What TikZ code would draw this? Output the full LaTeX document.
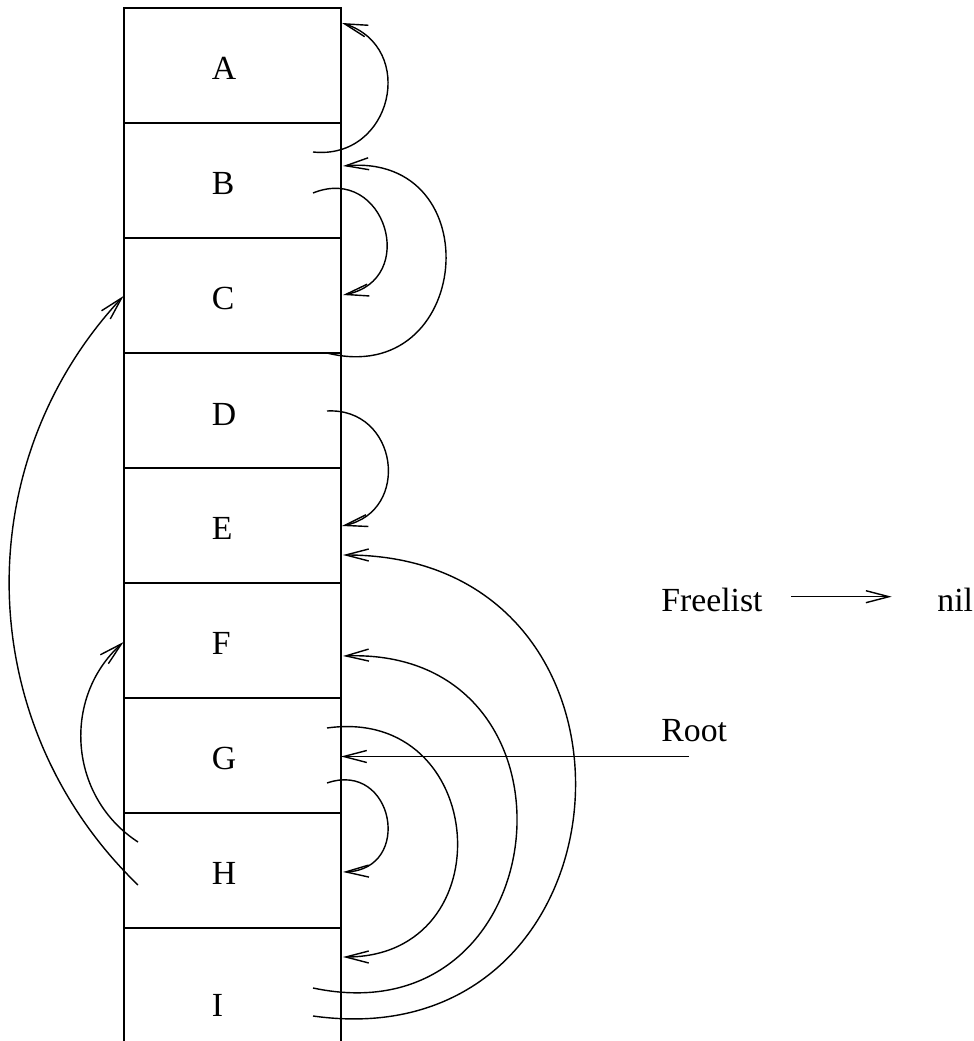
\documentclass[tikz,border=0pt]{standalone}
\usepackage{fontspec}
\setmainfont{Liberation Serif}
\usepackage{tikz}
\usetikzlibrary{arrows.meta}

\tikzset{
    cell/.style={draw, line width=0.5pt, outer sep=0pt, minimum width=2.17cm, minimum height=1.15cm, inner xsep=0.88cm, inner ysep=0pt, text width=0.41cm, align=left, text height=0.29cm, text depth=0pt},
    lbl/.style={inner sep=0pt, text height=0.3cm, text depth=0pt},
    ptr/.style={-{Straight Barb[length=2.3mm, width=1.2mm]}}
}

\begin{document}
\begin{tikzpicture}[font=\fontsize{9.6}{11.5}\selectfont]
    \useasboundingbox (0, 0) rectangle (9.74, 10.41);
    \node[cell] (A) at (2.325, 9.755) {A};
    \node[cell] (B) at (2.325, 8.605) {B};
    \node[cell] (C) at (2.325, 7.455) {C};
    \node[cell] (D) at (2.325, 6.305) {D};
    \node[cell] (E) at (2.325, 5.155) {E};
    \node[cell] (F) at (2.325, 4.005) {F};
    \node[cell] (G) at (2.325, 2.855) {G};
    \node[cell] (H) at (2.325, 1.705) {H};
    \node[cell, draw=none, text height=0.61cm] (I) at (2.325, 0.555) {I};
    \draw[line width=0.5pt] (H.south west) -- (I.south -| H.south west);
    \draw[line width=0.5pt] (H.south east) -- (I.south -| H.south east);

    \coordinate (a1) at (3.42, 10.18);
    \coordinate (b1) at (3.13, 8.89);
    \coordinate (b2) at (3.13, 8.48);
    \coordinate (b3) at (3.43, 8.75);
    \coordinate (c1) at (3.43, 7.46);
    \coordinate (c2) at (1.235, 7.45);
    \coordinate (d1) at (3.27, 6.88);
    \coordinate (d2) at (3.27, 6.30);
    \coordinate (e1) at (3.42, 5.15);
    \coordinate (e2) at (3.43, 4.86);
    \coordinate (f1) at (3.43, 3.85);
    \coordinate (f2) at (1.235, 3.99);
    \coordinate (g1) at (3.27, 3.13);
    \coordinate (g2) at (3.27, 2.58);
    \coordinate (h1) at (3.43, 1.69);
    \coordinate (h2) at (1.38, 1.56);
    \coordinate (h3) at (1.38, 1.99);
    \coordinate (i1) at (3.13, 0.25);
    \coordinate (i2) at (3.13, 0.53);
    \coordinate (i3) at (3.43, 0.84);

    \draw[ptr] (b1) to[out=-6, in=-18, looseness=1.54] (a1);
    \draw[ptr] (b2) to[out=22, in=11, looseness=1.88] (c1);
    \draw[ptr] (d1) to[out=-14, in=5, looseness=2.04] (b3);
    \draw[ptr] (d2) to[out=3, in=12, looseness=1.57] (e1);
    \draw[ptr] (i1) to[out=-8, in=0, looseness=1.83] (e2);
    \draw[ptr] (i2) to[out=-12, in=2, looseness=1.94] (f1);
    \draw[ptr] (g1) to[out=8, in=0, looseness=1.82] (i3);
    \draw[ptr] (g2) to[out=19, in=2, looseness=2.0] (h1);
    \draw[ptr] (h2) to[out=136, in=-133, looseness=1] (c2);
    \draw[ptr] (h3) to[out=147, in=-138, looseness=1.06] (f2);

    \node[lbl, anchor=base west] (freelist) at (6.607, 4.293) {Freelist};
    \node[lbl, anchor=base west] (nil) at (9.367, 4.293) {nil};
    \draw[ptr, shorten <=0.28cm, shorten >=0.45cm] (freelist) -- (nil);
    \node[lbl, anchor=base west] (root) at (6.607, 2.993) {Root};
    \coordinate (rootend) at (6.89, 2.845);
    \draw[ptr] (rootend) -- (rootend -| G.east);
\end{tikzpicture}
\end{document}
